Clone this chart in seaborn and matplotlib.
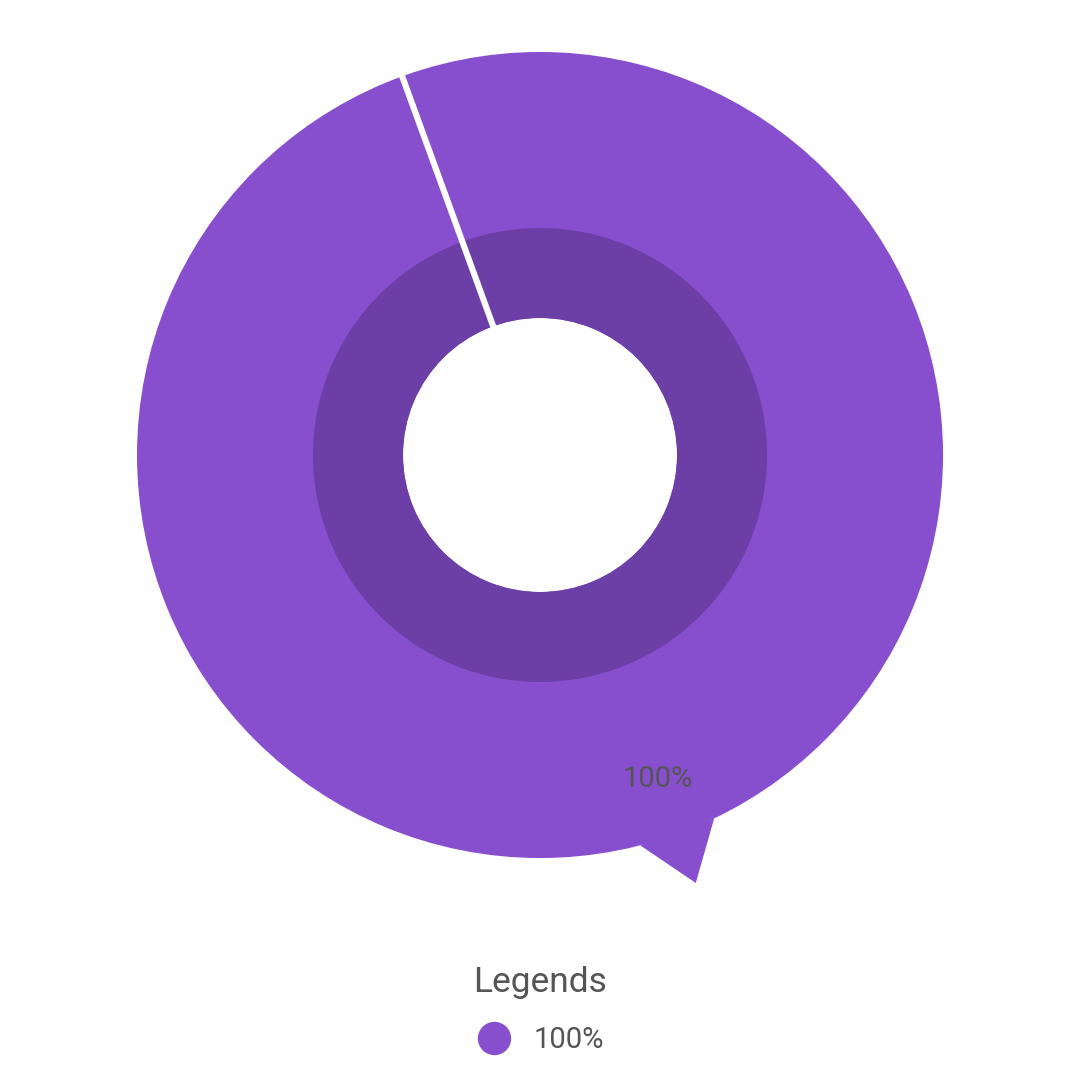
import numpy as np
import matplotlib
matplotlib.use("Agg")
import matplotlib.pyplot as plt
from matplotlib.patches import Polygon
from matplotlib.lines import Line2D
import seaborn as sns

# Data
labels = ["100%"]
values = [100]
slice_colors = ["#874FCD"]
inner_color = "#6B3FA5"
text_color = "#555555"

sns.set_theme(style="white")
plt.rcParams["font.family"] = ["Roboto", "DejaVu Sans"]

fig = plt.figure(figsize=(10.8, 10.8), dpi=100)
# pie center at (540, 455) px, outer radius 403 px, limits +-1.2
ax = fig.add_axes([0.05222, 0.1309, 0.8956, 0.8956])

outer_r = 1.0
hole_r = 137 / 403
ring_r = 227 / 403
start = 110

# outer ring with the label
wedges, _, autotexts = ax.pie(
    values, radius=outer_r, startangle=start, colors=slice_colors,
    autopct=lambda p: f"{p:.0f}%", pctdistance=0.856,
    wedgeprops=dict(width=outer_r - hole_r, linewidth=0),
    textprops=dict(color=text_color, fontsize=21),
)

# darker inner band
ax.pie(values, radius=ring_r, startangle=start, colors=[inner_color],
       wedgeprops=dict(width=ring_r - hole_r, linewidth=0))

# white seam where the slice starts/ends (a full wedge has no radial edge)
a0 = np.deg2rad(start)
ax.plot([0.95 * hole_r * np.cos(a0), 1.01 * outer_r * np.cos(a0)],
        [0.95 * hole_r * np.sin(a0), 1.01 * outer_r * np.sin(a0)],
        color="white", linewidth=4.4, solid_capstyle="butt", zorder=3)

# callout tail pointing out of the slice
mid = a0 + np.pi
half = np.deg2rad(5.6)
tail = [
    (outer_r * np.cos(mid - half), outer_r * np.sin(mid - half)),
    (1.13 * np.cos(mid), 1.13 * np.sin(mid)),
    (outer_r * np.cos(mid + half), outer_r * np.sin(mid + half)),
]
ax.add_patch(Polygon(tail, closed=True, facecolor=slice_colors[0],
                     edgecolor="none", zorder=3, clip_on=False))
for t in autotexts:
    t.set_zorder(4)

ax.set_xlim(-1.2, 1.2)
ax.set_ylim(-1.2, 1.2)
ax.set_aspect("equal")
ax.axis("off")

handles = [Line2D([], [], marker="o", linestyle="", markersize=23,
                  markerfacecolor=c, markeredgecolor=c) for c in slice_colors]
fig.legend(handles, labels, loc="center", bbox_to_anchor=(0.5, 0.037),
           frameon=False, fontsize=21, handlelength=1.2, handletextpad=0.75,
           labelcolor=text_color)
fig.text(0.5, 0.0815, "Legends", ha="center", va="baseline",
         fontsize=25.5, color=text_color)

fig.savefig("out.png", dpi=100)
